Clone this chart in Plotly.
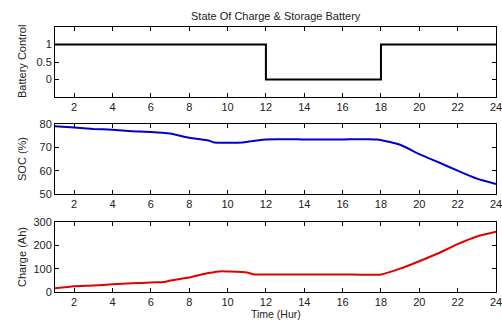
import plotly.graph_objects as go

# Data
ctrl_t = [1, 12, 12, 18, 18, 24]
ctrl_v = [1, 1, 0, 0, 1, 1]

soc_t = [1, 2, 3, 4, 5, 6, 7, 8, 9, 9.3, 10, 10.8, 11.5, 12, 14, 16, 17.8, 19, 20, 21, 22, 23, 24]
soc_v = [79, 78.5, 77.9, 77.5, 76.9, 76.6, 75.9, 74.1, 72.9, 72.1, 72.0, 72.1, 72.9, 73.4, 73.4, 73.4, 73.4, 71.1, 67.1, 63.6, 60.0, 56.6, 54.3]

chg_t = [1, 2, 3, 4, 5, 6, 6.7, 7, 8, 9, 9.7, 10, 11, 11.4, 12, 14, 16, 18, 19, 20, 21, 22, 23, 24]
chg_v = [16, 25, 28, 33, 37, 41, 43, 49, 62, 81, 89, 88, 84, 75, 75, 75, 75, 75, 100, 132, 166, 205, 238, 258]

xticks = list(range(2, 25, 2))

W, H = 502, 320
xd = [55 / W, 496 / W]

def ydom(top, bot):
    return [(H - bot) / H, (H - top) / H]

fig = go.Figure()
fig.add_trace(go.Scatter(x=ctrl_t, y=ctrl_v, mode="lines", line=dict(color="black", width=2), xaxis="x", yaxis="y", showlegend=False))
fig.add_trace(go.Scatter(x=soc_t, y=soc_v, mode="lines", line=dict(color="#0000d0", width=2, shape="spline", smoothing=0.5), xaxis="x2", yaxis="y2", showlegend=False))
fig.add_trace(go.Scatter(x=chg_t, y=chg_v, mode="lines", line=dict(color="#e00000", width=2, shape="spline", smoothing=0.5), xaxis="x3", yaxis="y3", showlegend=False))

font = dict(family="Liberation Sans, Arial", size=11, color="#222")

def xax(anchor):
    return dict(domain=xd, range=[1, 24], tickvals=xticks, ticks="inside", ticklen=4,
                showline=True, mirror="allticks", linecolor="black", linewidth=1,
                showgrid=False, zeroline=False, anchor=anchor, tickfont=font, tickcolor="black",
                ticklabeloverflow="allow", automargin=False)

def yax(dom, rng, tv, tt, anchor):
    return dict(domain=dom, range=rng, tickvals=tv, ticktext=tt, ticks="inside", ticklen=4,
                showline=True, mirror="allticks", linecolor="black", linewidth=1,
                showgrid=False, zeroline=False, anchor=anchor, tickfont=font, tickcolor="black",
                ticklabeloverflow="allow", automargin=False)

fig.update_layout(
    width=W, height=H, margin=dict(l=0, r=0, t=0, b=0, autoexpand=False),
    paper_bgcolor="white", plot_bgcolor="white",
    xaxis=xax("y"), xaxis2=xax("y2"), xaxis3=xax("y3"),
    yaxis=yax(ydom(27, 97), [-0.5, 1.5], [0, 0.5, 1], ["0", "0.5", "1"], "x"),
    yaxis2=yax(ydom(124, 194), [50, 80], [50, 60, 70, 80], None, "x2"),
    yaxis3=yax(ydom(222, 292), [0, 300], [0, 100, 200, 300], None, "x3"),
    annotations=[
        dict(text="State Of Charge & Storage Battery", x=(55 + 496) / 2 / W, y=(H - 16) / H, xref="paper", yref="paper", showarrow=False, font=font, xanchor="center", yanchor="middle"),
        dict(text="Battery Control", x=22 / W, y=(H - 62) / H, xref="paper", yref="paper", showarrow=False, font=font, textangle=-90, xanchor="center", yanchor="middle"),
        dict(text="SOC (%)", x=22 / W, y=(H - 159) / H, xref="paper", yref="paper", showarrow=False, font=font, textangle=-90, xanchor="center", yanchor="middle"),
        dict(text="Charge (Ah)", x=22 / W, y=(H - 257) / H, xref="paper", yref="paper", showarrow=False, font=font, textangle=-90, xanchor="center", yanchor="middle"),
        dict(text="Time (Hur)", x=(55 + 496) / 2 / W, y=(H - 314) / H, xref="paper", yref="paper", showarrow=False, font=dict(family="Liberation Sans, Arial", size=10.5, color="#222"), xanchor="center", yanchor="middle"),
    ],
)

fig.write_html("out.html")
